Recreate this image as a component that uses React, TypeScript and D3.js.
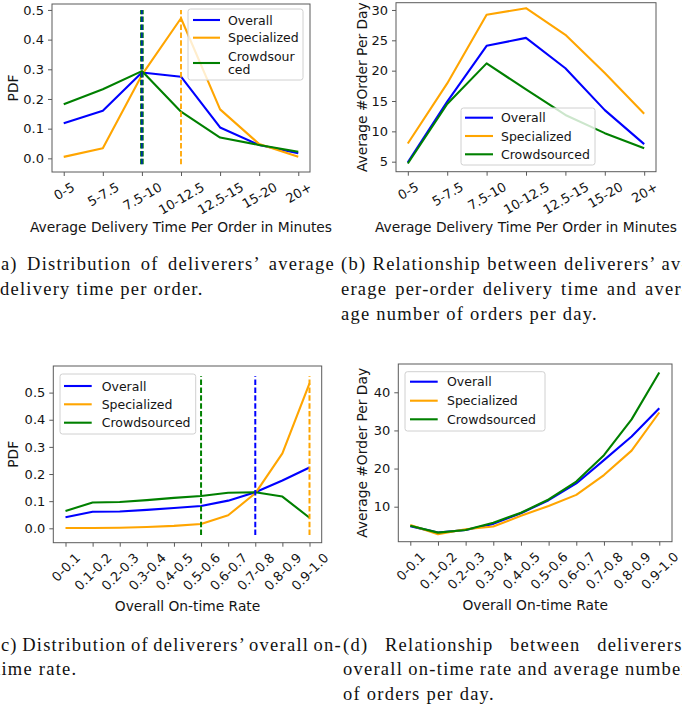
import React, { useEffect, useRef } from "react";
import * as d3 from "d3";

// ---------------- data ----------------
const timeBins = ["0-5", "5-7.5", "7.5-10", "10-12.5", "12.5-15", "15-20", "20+"];
const rateBins = ["0-0.1", "0.1-0.2", "0.2-0.3", "0.3-0.4", "0.4-0.5", "0.5-0.6", "0.6-0.7", "0.7-0.8", "0.8-0.9", "0.9-1.0"];
const seriesNames = ["Overall", "Specialized", "Crowdsourced"];
const seriesColors = ["blue", "orange", "green"];

const pdfTimeOverall = [0.118, 0.16, 0.289, 0.275, 0.104, 0.045, 0.017];
const pdfTimeSpecialized = [0.005, 0.034, 0.281, 0.472, 0.165, 0.048, 0.005];
const pdfTimeCrowd = [0.182, 0.233, 0.294, 0.157, 0.07, 0.045, 0.022];

const ordersTimeOverall = [4.9, 14.9, 24.1, 25.4, 20.4, 13.5, 7.9];
const ordersTimeSpecialized = [8.0, 17.9, 29.2, 30.3, 25.9, 19.6, 12.9];
const ordersTimeCrowd = [4.7, 14.5, 21.2, 16.9, 12.7, 9.7, 7.2];

const pdfRateOverall = [0.041, 0.061, 0.062, 0.068, 0.075, 0.082, 0.102, 0.133, 0.176, 0.224];
const pdfRateSpecialized = [0.001, 0.001, 0.002, 0.005, 0.009, 0.016, 0.048, 0.129, 0.276, 0.534];
const pdfRateCrowd = [0.064, 0.095, 0.097, 0.104, 0.112, 0.119, 0.131, 0.133, 0.117, 0.039];

const ordersRateOverall = [4.9, 3.2, 3.9, 5.5, 8.3, 11.7, 16.1, 22.2, 28.4, 35.8];
const ordersRateSpecialized = [5.2, 2.8, 4.1, 4.8, 7.6, 10.2, 13.1, 18.3, 24.7, 34.7];
const ordersRateCrowd = [5.0, 3.2, 3.9, 5.8, 8.4, 11.9, 16.6, 23.5, 32.9, 45.2];

// mean markers: category index for [overall, specialized, crowdsourced]
const timeMeanIndex = [2, 3, 2];
const rateMeanIndex = [7, 9, 5];
const timeMeanRange = [-0.02, 0.5];
const rateMeanRange = [-0.025, 0.56];

const pdfTicks = [0, 0.1, 0.2, 0.3, 0.4, 0.5];
const ordersTimeTicks = [5, 10, 15, 20, 25, 30];
const ordersRateTicks = [10, 20, 30, 40];

const xLabelTime = "Average Delivery Time Per Order in Minutes";
const xLabelRate = "Overall On-time Rate";
const yLabelPdf = "PDF";
const yLabelOrders = "Average #Order Per Day";

const captionA = ["(a) Distribution of deliverers’ average", "delivery time per order."];
const captionB = ["(b) Relationship between deliverers’ av-", "erage per-order delivery time and aver-", "age number of orders per day."];
const captionC = ["(c) Distribution of deliverers’ overall on-", "time rate."];
const captionD = ["(d) Relationship between deliverers’", "overall on-time rate and average number", "of orders per day."];

// ---------------- layout ----------------
const W = 682;
const H = 712;
const FONT = "'DejaVu Sans', sans-serif";
const SERIF = "'Liberation Serif', serif";
const TEXT = "#141414";
const FRAME = "#5a5a5a";

type Frame = { left: number; right: number; top: number; bottom: number };
type VLine = { at: number; color: string; width: number };
type LegendEntry = { color: string; lines: string[]; y: number; textYs: number[] };
type Legend = { x: number; y: number; w: number; h: number; hx1: number; hx2: number; tx: number; entries: LegendEntry[] };
type Panel = {
  frame: Frame;
  xDomain: [number, number];
  yDomain: [number, number];
  cats: string[];
  series: number[][];
  yTicks: number[];
  yFormat: (v: number) => string;
  rot: number;
  vlines: VLine[];
  vRange: number[];
  xLabel: string;
  xLabelY: number;
  yLabel: string;
  yLabelX: number;
  legend: Legend;
};

const fmt1 = d3.format(".1f");
const fmt0 = d3.format("d");

const panels: Panel[] = [
  {
    frame: { left: 52, right: 310, top: 4, bottom: 172 },
    xDomain: [-0.3, 6.3],
    yDomain: [-0.046, 0.52],
    cats: timeBins,
    series: [pdfTimeOverall, pdfTimeSpecialized, pdfTimeCrowd],
    yTicks: pdfTicks,
    yFormat: fmt1,
    rot: 30,
    vlines: [
      { at: timeMeanIndex[1], color: seriesColors[1], width: 1.8 },
      { at: timeMeanIndex[2], color: seriesColors[2], width: 3.6 },
      { at: timeMeanIndex[0], color: seriesColors[0], width: 1.1 },
    ],
    vRange: timeMeanRange,
    xLabel: xLabelTime,
    xLabelY: 226.7,
    yLabel: yLabelPdf,
    yLabelX: 13.5,
    legend: {
      x: 188, y: 9, w: 115, h: 71, hx1: 193, hx2: 220, tx: 228,
      entries: [
        { color: seriesColors[0], lines: ["Overall"], y: 20, textYs: [20] },
        { color: seriesColors[1], lines: ["Specialized"], y: 37.7, textYs: [37.7] },
        { color: seriesColors[2], lines: ["Crowdsour", "ced"], y: 63, textYs: [56, 69.5] },
      ],
    },
  },
  {
    frame: { left: 396, right: 656, top: 2.7, bottom: 171.7 },
    xDomain: [-0.3, 6.3],
    yDomain: [3.35, 31.2],
    cats: timeBins,
    series: [ordersTimeOverall, ordersTimeSpecialized, ordersTimeCrowd],
    yTicks: ordersTimeTicks,
    yFormat: fmt0,
    rot: 30,
    vlines: [],
    vRange: [0, 0],
    xLabel: xLabelTime,
    xLabelY: 226.7,
    yLabel: yLabelOrders,
    yLabelX: 361.7,
    legend: {
      x: 461, y: 108, w: 134, h: 57, hx1: 465, hx2: 493, tx: 501,
      entries: [
        { color: seriesColors[0], lines: [seriesNames[0]], y: 117.7, textYs: [117.7] },
        { color: seriesColors[1], lines: [seriesNames[1]], y: 136, textYs: [136] },
        { color: seriesColors[2], lines: [seriesNames[2]], y: 154.3, textYs: [154.3] },
      ],
    },
  },
  {
    frame: { left: 53.3, right: 321.7, top: 366, bottom: 542.7 },
    xDomain: [-0.45, 9.45],
    yDomain: [-0.053, 0.598],
    cats: rateBins,
    series: [pdfRateOverall, pdfRateSpecialized, pdfRateCrowd],
    yTicks: pdfTicks,
    yFormat: fmt1,
    rot: 45,
    vlines: [
      { at: rateMeanIndex[2], color: seriesColors[2], width: 2 },
      { at: rateMeanIndex[0], color: seriesColors[0], width: 2 },
      { at: rateMeanIndex[1], color: seriesColors[1], width: 2 },
    ],
    vRange: rateMeanRange,
    xLabel: xLabelRate,
    xLabelY: 606,
    yLabel: yLabelPdf,
    yLabelX: 13.5,
    legend: {
      x: 60, y: 374, w: 135.7, h: 60, hx1: 64, hx2: 91.7, tx: 101.7,
      entries: [
        { color: seriesColors[0], lines: [seriesNames[0]], y: 386, textYs: [386] },
        { color: seriesColors[1], lines: [seriesNames[1]], y: 404.3, textYs: [404.3] },
        { color: seriesColors[2], lines: [seriesNames[2]], y: 422.7, textYs: [422.7] },
      ],
    },
  },
  {
    frame: { left: 398.3, right: 672, top: 364, bottom: 541.7 },
    xDomain: [-0.434, 9.46],
    yDomain: [0.82, 47.42],
    cats: rateBins,
    series: [ordersRateOverall, ordersRateSpecialized, ordersRateCrowd],
    yTicks: ordersRateTicks,
    yFormat: fmt0,
    rot: 45,
    vlines: [],
    vRange: [0, 0],
    xLabel: xLabelRate,
    xLabelY: 605,
    yLabel: yLabelOrders,
    yLabelX: 361.7,
    legend: {
      x: 405, y: 371.7, w: 140, h: 59.3, hx1: 410, hx2: 437.7, tx: 447,
      entries: [
        { color: seriesColors[0], lines: [seriesNames[0]], y: 381.7, textYs: [381.7] },
        { color: seriesColors[1], lines: [seriesNames[1]], y: 400.7, textYs: [400.7] },
        { color: seriesColors[2], lines: [seriesNames[2]], y: 419.3, textYs: [419.3] },
      ],
    },
  },
];

type CapLine = { text: string; x: number; y: number; justifyTo?: number };
const captionLayout: CapLine[] = [
  { text: captionA[0], x: -6.5, y: 270, justifyTo: 335 },
  { text: captionA[1], x: 0, y: 295 },
  { text: captionB[0], x: 341, y: 270, justifyTo: 689 },
  { text: captionB[1], x: 341, y: 295, justifyTo: 689 },
  { text: captionB[2], x: 341, y: 320 },
  { text: captionC[0], x: -6.5, y: 650.5, justifyTo: 342 },
  { text: captionC[1], x: -5, y: 675 },
  { text: captionD[0], x: 343, y: 650.5, justifyTo: 690 },
  { text: captionD[1], x: 343, y: 675, justifyTo: 689 },
  { text: captionD[2], x: 343, y: 700 },
];

const TICK_FS = 13;
const LABEL_FS = 13.8;
const LEGEND_FS = 12.5;
const CAP_FS = 18.5;
const CAP_LS = 1.25;

function rotateTickLabels(axisG: d3.Selection<SVGGElement, unknown, null, undefined>, angle: number, top: number) {
  axisG.selectAll<SVGTextElement, unknown>(".tick text").each(function () {
    const t = d3.select(this);
    t.attr("x", 0).attr("y", 0).attr("dy", null).attr("text-anchor", "start").attr("dominant-baseline", "alphabetic");
    const bb = this.getBBox();
    const a = (-angle * Math.PI) / 180;
    const cs = Math.cos(a);
    const sn = Math.sin(a);
    const pts = [
      [bb.x, bb.y],
      [bb.x + bb.width, bb.y],
      [bb.x, bb.y + bb.height],
      [bb.x + bb.width, bb.y + bb.height],
    ].map(([px, py]) => [px * cs - py * sn, px * sn + py * cs]);
    const minX = d3.min(pts, (p) => p[0]) as number;
    const maxX = d3.max(pts, (p) => p[0]) as number;
    const minY = d3.min(pts, (p) => p[1]) as number;
    t.attr("transform", `translate(${-(minX + maxX) / 2},${top - minY}) rotate(${-angle})`);
  });
}

function drawPanel(root: d3.Selection<SVGGElement, unknown, null, undefined>, p: Panel) {
  const f = p.frame;
  const x = d3.scaleLinear().domain(p.xDomain).range([f.left, f.right]);
  const y = d3.scaleLinear().domain(p.yDomain).range([f.bottom, f.top]);
  const g = root.append("g");

  const line = d3
    .line<number>()
    .x((_, i) => x(i))
    .y((v) => y(v));

  p.series.forEach((vals, si) => {
    g.append("path")
      .attr("d", line(vals) as string)
      .attr("fill", "none")
      .attr("stroke", seriesColors[si])
      .attr("stroke-width", 2.1)
      .attr("stroke-linejoin", "round")
      .attr("stroke-linecap", "butt");
  });

  p.vlines.forEach((v) => {
    g.append("line")
      .attr("x1", x(v.at))
      .attr("x2", x(v.at))
      .attr("y1", y(p.vRange[0]))
      .attr("y2", y(p.vRange[1]))
      .attr("stroke", v.color)
      .attr("stroke-width", v.width)
      .attr("stroke-dasharray", "5.5,2.4");
  });

  // frame
  g.append("rect")
    .attr("x", f.left)
    .attr("y", f.top)
    .attr("width", f.right - f.left)
    .attr("height", f.bottom - f.top)
    .attr("fill", "none")
    .attr("stroke", FRAME)
    .attr("stroke-width", 1);

  // y axis
  const yAxis = d3
    .axisLeft(y)
    .tickValues(p.yTicks)
    .tickFormat((d) => p.yFormat(d as number))
    .tickSize(4)
    .tickPadding(4);
  const yg = g.append("g").attr("transform", `translate(${f.left},0)`).call(yAxis);
  yg.select(".domain").remove();
  yg.attr("font-family", FONT).attr("font-size", TICK_FS);
  yg.selectAll(".tick line").attr("stroke", FRAME);
  yg.selectAll(".tick text").attr("fill", TEXT);

  // x axis
  const xAxis = d3
    .axisBottom(x)
    .tickValues(d3.range(p.cats.length))
    .tickFormat((d) => p.cats[d as number])
    .tickSize(4)
    .tickPadding(4);
  const xg = g.append("g").attr("transform", `translate(0,${f.bottom})`).call(xAxis);
  xg.select(".domain").remove();
  xg.attr("font-family", FONT).attr("font-size", TICK_FS);
  xg.selectAll(".tick line").attr("stroke", FRAME);
  xg.selectAll(".tick text").attr("fill", TEXT);
  rotateTickLabels(xg, p.rot, 7.5);

  // axis labels
  g.append("text")
    .attr("x", (f.left + f.right) / 2)
    .attr("y", p.xLabelY)
    .attr("dy", "0.36em")
    .attr("text-anchor", "middle")
    .attr("font-family", FONT)
    .attr("font-size", LABEL_FS)
    .attr("fill", TEXT)
    .text(p.xLabel);
  const cy = (f.top + f.bottom) / 2;
  g.append("text")
    .attr("transform", `translate(${p.yLabelX},${cy}) rotate(-90)`)
    .attr("dy", "0.36em")
    .attr("text-anchor", "middle")
    .attr("font-family", FONT)
    .attr("font-size", LABEL_FS)
    .attr("fill", TEXT)
    .text(p.yLabel);

  // legend
  const L = p.legend;
  const lg = g.append("g");
  lg.append("rect")
    .attr("x", L.x)
    .attr("y", L.y)
    .attr("width", L.w)
    .attr("height", L.h)
    .attr("rx", 2.5)
    .attr("fill", "white")
    .attr("fill-opacity", 0.8)
    .attr("stroke", "#d0d0d0")
    .attr("stroke-width", 1);
  L.entries.forEach((e) => {
    lg.append("line")
      .attr("x1", L.hx1)
      .attr("x2", L.hx2)
      .attr("y1", e.y)
      .attr("y2", e.y)
      .attr("stroke", e.color)
      .attr("stroke-width", 2.1);
    e.lines.forEach((txt, k) => {
      lg.append("text")
        .attr("x", L.tx)
        .attr("y", e.textYs[k])
        .attr("dy", "0.36em")
        .attr("font-family", FONT)
        .attr("font-size", LEGEND_FS)
        .attr("fill", TEXT)
        .text(txt);
    });
  });
}

function drawCaptions(root: d3.Selection<SVGGElement, unknown, null, undefined>) {
  const g = root.append("g");
  captionLayout.forEach((c) => {
    const t = g
      .append("text")
      .attr("x", c.x)
      .attr("y", c.y)
      .attr("font-family", SERIF)
      .attr("font-size", CAP_FS)
      .attr("letter-spacing", CAP_LS)
      .attr("fill", "#111")
      .text(c.text);
    if (c.justifyTo !== undefined) {
      const natural = (t.node() as SVGTextElement).getComputedTextLength();
      const spaces = c.text.split(" ").length - 1;
      const ws = (c.justifyTo - c.x - natural) / spaces;
      t.attr("word-spacing", ws);
    }
  });
}

export default function App() {
  const ref = useRef<SVGSVGElement | null>(null);
  useEffect(() => {
    if (!ref.current) return;
    const svg = d3.select(ref.current);
    svg.selectAll("*").remove();
    const root = svg.append("g");
    panels.forEach((p) => drawPanel(root, p));
    drawCaptions(root);
  }, []);
  return (
    <svg
      ref={ref}
      width={W}
      height={H}
      viewBox={`0 0 ${W} ${H}`}
      style={{ position: "absolute", left: 0, top: 0, background: "white" }}
    />
  );
}
